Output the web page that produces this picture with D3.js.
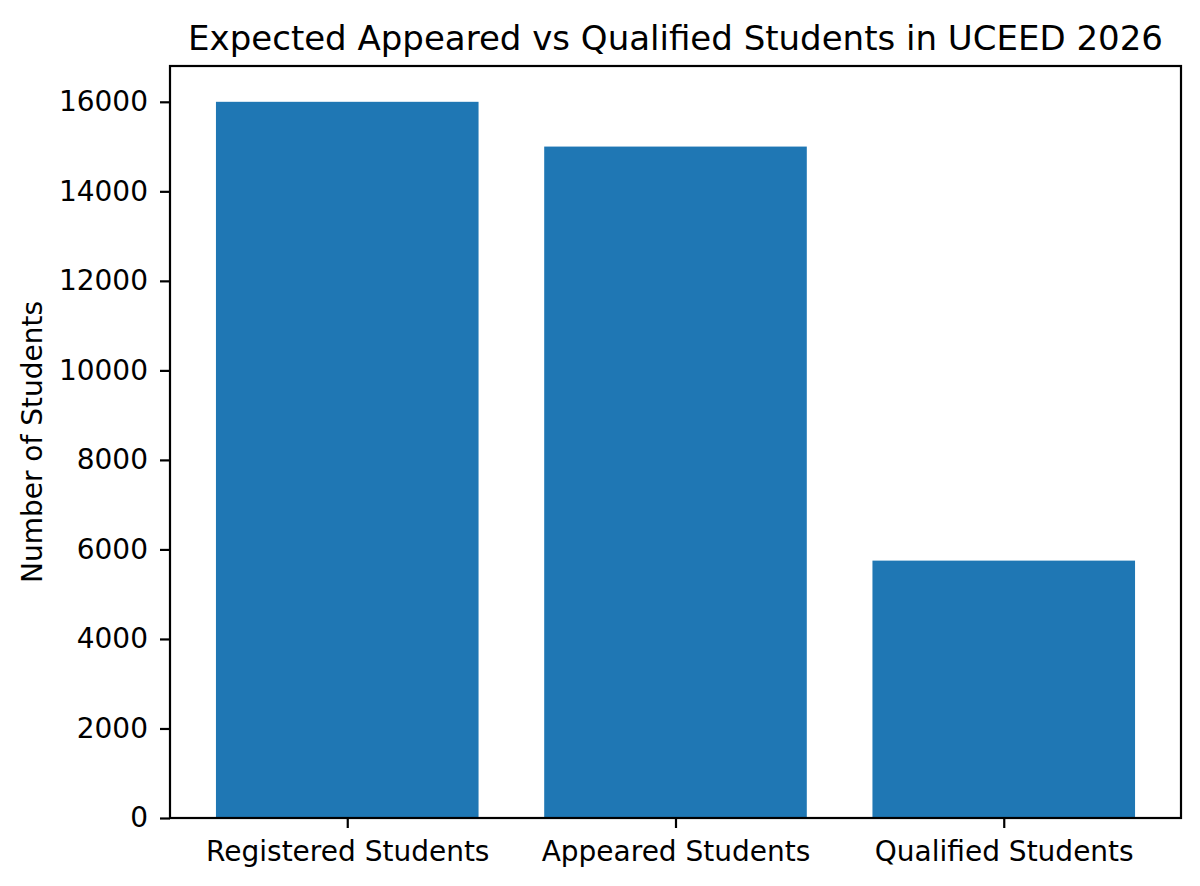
<!DOCTYPE html>
<html>
<head>
<meta charset="utf-8">
<script src="https://cdn.jsdelivr.net/npm/d3@7"></script>
<style>
  body { margin: 0; background: #fff; }
  text { font-family: "DejaVu Sans", sans-serif; fill: #000; }
</style>
</head>
<body>
<svg id="chart" width="1200" height="886"></svg>
<script>
const categories = ["Registered Students", "Appeared Students", "Qualified Students"];
const students = [16000, 15000, 5750];
const yTicks = [0, 2000, 4000, 6000, 8000, 10000, 12000, 14000, 16000];

const svg = d3.select("#chart");
const axL = 170, axR = 1181, axT = 66, axB = 818;

// matplotlib-ish: bars of width 0.8, 5% margins
const x = d3.scaleLinear().domain([-0.54, 2.54]).range([axL, axR]);
const y = d3.scaleLinear().domain([0, 16800]).range([axB, axT]);

svg.append("g").selectAll("rect").data(students).enter().append("rect")
    .attr("x", (d, i) => x(i - 0.4))
    .attr("width", (d, i) => x(i + 0.4) - x(i - 0.4))
    .attr("y", d => y(d))
    .attr("height", d => y(0) - y(d))
    .attr("fill", "#1f77b4");

const yAxis = svg.append("g").attr("transform", `translate(${axL},0)`)
    .call(d3.axisLeft(y).tickValues(yTicks).tickFormat(d3.format("d")).tickSize(10).tickPadding(12));
const xAxis = svg.append("g").attr("transform", `translate(0,${axB})`)
    .call(d3.axisBottom(x).tickValues([0, 1, 2]).tickFormat(i => categories[i]).tickSize(10).tickPadding(13));

[xAxis, yAxis].forEach(a => {
    a.select(".domain").remove();
    a.selectAll("line").attr("stroke", "#000").attr("stroke-width", 2.2);
    a.selectAll("text").style("font-size", "28px").attr("fill", "#000");
});

// frame
svg.append("rect").attr("x", axL).attr("y", axT).attr("width", axR - axL).attr("height", axB - axT)
    .attr("fill", "none").attr("stroke", "#000").attr("stroke-width", 2.2);

svg.append("text").attr("x", (axL + axR) / 2).attr("y", 50).attr("text-anchor", "middle")
    .style("font-size", "34px").text("Expected Appeared vs Qualified Students in UCEED 2026");

svg.append("text").attr("transform", `translate(42,${(axT + axB) / 2}) rotate(-90)`)
    .attr("text-anchor", "middle").style("font-size", "28px").text("Number of Students");
</script>
</body>
</html>
